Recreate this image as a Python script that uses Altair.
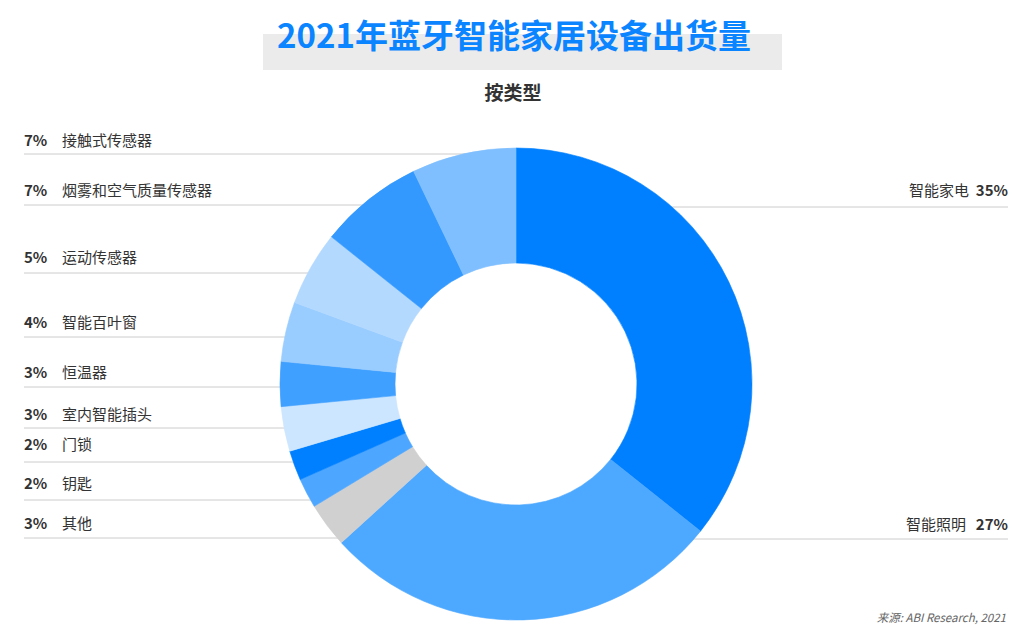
import math
import altair as alt
import pandas as pd

FONT = "Noto Sans CJK SC"

# ---- data ----
categories = ["智能家电", "智能照明", "其他", "钥匙", "门锁", "室内智能插头",
              "恒温器", "智能百叶窗", "运动传感器", "烟雾和空气质量传感器", "接触式传感器"]
shares = [35, 27, 3, 2, 2, 3, 3, 4, 5, 7, 7]
colors = ["#0080FF", "#4DA8FF", "#D0D0D0", "#4DA6FF", "#0080FF", "#CCE6FF",
          "#40A0FF", "#99CCFF", "#B3D9FF", "#3399FF", "#80BFFF"]

title_text = "2021年蓝牙智能家居设备出货量"
subtitle_text = "按类型"
source_text = "来源: ABI Research, 2021"

# ---- layout (page pixels) ----
M = 8
W, H = 1033 - 2 * M, 637 - 2 * M
CX, CY, R_OUT, R_IN = 516, 384, 236, 121
label_side = ["right", "right"] + ["left"] * 9
label_text_y = [191, 525, 524, 484, 445, 415, 373, 323, 258, 191, 141]
label_line_y = [207, 539, 538, 500, 462, 428, 387, 337, 273, 205, 154]
right_name_end = {0: 969, 1: 966}

slices = pd.DataFrame({
    "category": categories,
    "share": shares,
    "idx": list(range(len(categories))),
})

rows_rule, rows_pct, rows_name = [], [], []
for i, (cat, val) in enumerate(zip(categories, shares)):
    ly = label_line_y[i]
    ty = label_text_y[i]
    half = math.sqrt(max(R_OUT ** 2 - (ly - CY) ** 2, 0))
    if label_side[i] == "left":
        x1, x2 = 24, CX - half + 5
        rows_pct.append({"x": 24 - M, "y": ty - M, "t": f"{val}%", "a": "left"})
        rows_name.append({"x": 62 - M, "y": ty - M, "t": cat, "a": "left"})
    else:
        x1, x2 = CX + half - 5, 1008
        rows_pct.append({"x": 1008 - M, "y": ty - M, "t": f"{val}%", "a": "right"})
        rows_name.append({"x": right_name_end[i] - M, "y": ty - M, "t": cat, "a": "right"})
    rows_rule.append({"x": x1 - M, "x2": x2 - M, "y": ly - M})

rules_df = pd.DataFrame(rows_rule)
pct_left = pd.DataFrame([r for r in rows_pct if r["a"] == "left"])
pct_right = pd.DataFrame([r for r in rows_pct if r["a"] == "right"])
name_left = pd.DataFrame([r for r in rows_name if r["a"] == "left"])
name_right = pd.DataFrame([r for r in rows_name if r["a"] == "right"])

X = lambda f: alt.X(f"{f}:Q", scale=None, axis=None)
Y = lambda f: alt.Y(f"{f}:Q", scale=None, axis=None)

rules = alt.Chart(rules_df).mark_rule(color="#CCCCCC", strokeWidth=1).encode(
    x=X("x"), x2="x2:Q", y=Y("y"))

color_scale = alt.Scale(domain=categories, range=colors)
arcs = alt.Chart(slices).mark_arc(radius=R_OUT, radius2=R_IN, strokeWidth=0.6).encode(
    theta=alt.Theta("share:Q", stack=True),
    order=alt.Order("idx:Q"),
    color=alt.Color("category:N", scale=color_scale, legend=None),
    stroke=alt.Stroke("category:N", scale=color_scale, legend=None),
    x=alt.value(CX - M), y=alt.value(CY - M),
)

def txt(df, align, weight):
    return alt.Chart(df).mark_text(
        align=align, baseline="middle", font=FONT, fontSize=15,
        fontWeight=weight, color="#333333").encode(x=X("x"), y=Y("y"), text="t:N")

title_bg = alt.Chart(pd.DataFrame({"a": [0]})).mark_rect(color="#EBEBEB").encode(
    x=alt.value(263 - M), x2=alt.value(782 - M), y=alt.value(34 - M), y2=alt.value(70 - M))
title = alt.Chart(pd.DataFrame({"t": [title_text]})).mark_text(
    font=FONT, fontSize=33, fontWeight="bold", color="#0A84FF",
    align="center", baseline="middle").encode(
    x=alt.value(514 - M), y=alt.value(38 - M), text="t:N")
subtitle = alt.Chart(pd.DataFrame({"t": [subtitle_text]})).mark_text(
    font=FONT, fontSize=19, fontWeight="bold", color="#333333",
    align="center", baseline="middle").encode(
    x=alt.value(513 - M), y=alt.value(94 - M), text="t:N")
source = alt.Chart(pd.DataFrame({"t": [source_text]})).mark_text(
    font=FONT, fontSize=11.5, fontStyle="italic", color="#666666",
    align="right", baseline="middle").encode(
    x=alt.value(1006 - M), y=alt.value(619 - M), text="t:N")

chart = alt.layer(
    rules, arcs,
    txt(pct_left, "left", "bold"), txt(name_left, "left", "normal"),
    txt(pct_right, "right", "bold"), txt(name_right, "right", "normal"),
    title_bg, title, subtitle, source,
).properties(width=W, height=H, autosize="none", padding=0).configure_view(strokeWidth=0)

chart.save("out.html", embed_options={"renderer": "svg", "actions": False})
